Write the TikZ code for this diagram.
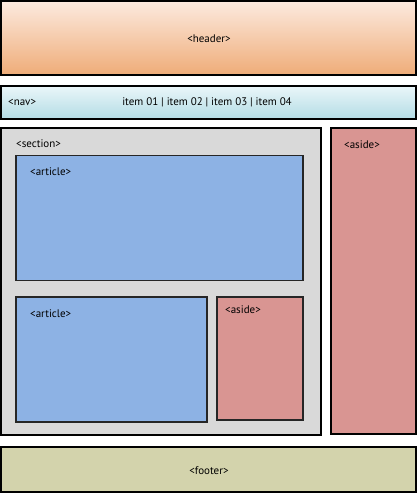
\documentclass[tikz,border=0pt]{standalone}
\usepackage{fontspec}
\setmainfont{PT Sans}
\begin{document}
\begin{tikzpicture}[x=1pt,y=-1pt,
  region/.style={draw=black, line width=2.2pt, anchor=north west, inner sep=0pt, outer sep=0pt},
  inner/.style={draw=black!85, line width=1.8pt, anchor=north west, inner sep=0pt, outer sep=0pt},
  lbl/.style={font=\fontsize{11}{13}\selectfont, inner sep=0pt, text=black}]
\definecolor{hdtop}{HTML}{FCEADF}
\definecolor{hdbot}{HTML}{EFAC78}
\definecolor{nvtop}{HTML}{EAF6F9}
\definecolor{nvbot}{HTML}{B3DCE5}
\definecolor{secfill}{HTML}{D9D9D9}
\definecolor{artfill}{HTML}{8DB2E4}
\definecolor{asidefill}{HTML}{D99592}
\definecolor{footfill}{HTML}{D3D3AC}
\useasboundingbox (0,0) rectangle (417,493);
\fill[white] (0,0) rectangle (417,493);
% header
\node[region, top color=hdtop, bottom color=hdbot, minimum width=415, minimum height=74] (header) at (1,1) {};
\node[lbl] (headerlbl) at (209,39) {<header>};
% nav
\node[region, top color=nvtop, bottom color=nvbot, minimum width=415, minimum height=33] (nav) at (1,86) {};
\node[lbl, anchor=west] (navlbl) at (8,102) {<nav>};
\node[lbl] (navitems) at (207,102) {item 01 | item 02 | item 03 | item 04};
% section
\node[region, fill=secfill, minimum width=320, minimum height=307] (section) at (1,128) {};
\node[lbl, anchor=west] (seclbl) at (16,144) {<section>};
% article 1
\node[inner, fill=artfill, minimum width=287, minimum height=125] (art1) at (16,155.5) {};
\node[lbl, anchor=west] (art1lbl) at (30,171.5) {<article>};
% article 2
\node[inner, fill=artfill, minimum width=191, minimum height=125] (art2) at (16,297) {};
\node[lbl, anchor=west] (art2lbl) at (30,313.5) {<article>};
% small aside
\node[inner, fill=asidefill, minimum width=86, minimum height=123] (aside2) at (217,297) {};
\node[lbl, anchor=west] (aside2lbl) at (225,310) {<aside>};
% big aside
\node[region, fill=asidefill, minimum width=85, minimum height=306] (aside1) at (331,128) {};
\node[lbl, anchor=west] (aside1lbl) at (344,144.5) {<aside>};
% footer
\node[region, fill=footfill, minimum width=415, minimum height=45] (footer) at (1,447) {};
\node[lbl] (footerlbl) at (209,471) {<footer>};
\end{tikzpicture}
\end{document}
